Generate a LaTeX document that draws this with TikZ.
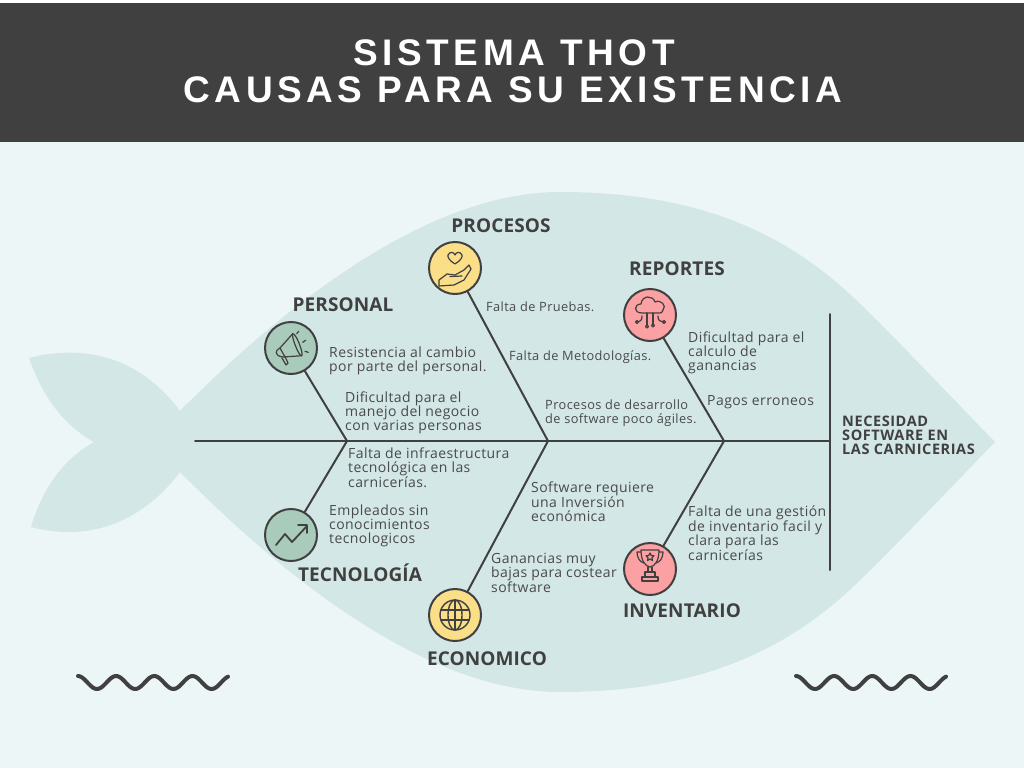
\documentclass[tikz,border=0pt]{standalone}
\usepackage{fontspec}
\setmainfont{Open Sans}
\definecolor{fondo}{HTML}{ECF6F6}
\definecolor{pez}{HTML}{D2E7E6}
\definecolor{oscuro}{HTML}{404040}
\definecolor{texto}{HTML}{4A4A4A}
\definecolor{verde}{HTML}{A8CBBB}
\definecolor{amarillo}{HTML}{FADF88}
\definecolor{rosa}{HTML}{FBA0A3}
\newcommand{\titlefont}{\fontspec{Liberation Sans}[LetterSpace=12.4]\bfseries\fontsize{37}{37}\selectfont}
\newcommand{\causafont}{\addfontfeature{LetterSpace=3}\fontsize{14}{14}\selectfont}
\newcommand{\causachicafont}{\addfontfeature{LetterSpace=3}\fontsize{12.8}{14}\selectfont}
\newcommand{\ramafont}{\addfontfeature{LetterSpace=0.5}\bfseries\fontsize{19}{19}\selectfont}
\newcommand{\efectofont}{\bfseries\addfontfeature{LetterSpace=4}\fontsize{14.5}{14}\selectfont}
\begin{document}
\begin{tikzpicture}[x=1pt, y=-1pt, line join=round, line cap=round]

\tikzset{
    icono/.style={circle, draw=oscuro, line width=2pt, minimum size=52pt, inner sep=0pt},
    trazo/.style={draw=oscuro, line width=1.2pt},
    hueso/.style={draw=oscuro, line width=2pt},
    causa/.style={anchor=west, align=left, inner sep=0pt, text=texto, font=\causafont},
    causachica/.style={causa, font=\causachicafont},
    rama/.style={inner sep=0pt, text=oscuro, font=\ramafont}
}

\useasboundingbox (0,0) rectangle (1024,768);
\fill[fondo] (0,0) rectangle (1024,768);
\fill[white] (0,0) rectangle (1024,3);
\fill[oscuro] (0,3) rectangle (1024,142);

% titulo
\node[inner sep=0pt, text=white, font=\titlefont] (titulo1) at (514,53) {SISTEMA THOT};
\node[inner sep=0pt, text=white, font=\titlefont] (titulo2) at (513,90) {CAUSAS PARA SU EXISTENCIA};

% cuerpo y cola
\fill[pez] (180,411) .. controls (290,300) and (430,192) .. (560,192)
    .. controls (690,192) and (775,228) .. (843,288)
    .. controls (875,316) and (950,396) .. (995,442)
    .. controls (950,488) and (875,568) .. (843,596)
    .. controls (775,656) and (690,692) .. (560,692)
    .. controls (430,692) and (290,583) .. (180,472)
    .. controls (150,512) and (100,545) .. (31,527)
    .. controls (42,490) and (62,460) .. (94,442)
    .. controls (62,424) and (42,395) .. (29,358)
    .. controls (100,340) and (150,370) .. (180,411) -- cycle;

% espina
\coordinate (cola) at (195,441);
\coordinate (cabeza) at (830,441);
\coordinate (cabezaA) at (830,314);
\coordinate (cabezaB) at (830,570);
\coordinate (j1) at (347,441);
\coordinate (j2) at (548,441);
\coordinate (j3) at (724,441);
\draw[hueso] (cola) -- (cabeza);
\draw[hueso] (cabezaA) -- (cabezaB);

\node[icono, fill=verde] (personal) at (291,348) {};
\node[icono, fill=amarillo] (procesos) at (455,268) {};
\node[icono, fill=rosa] (reportes) at (650,315) {};
\node[icono, fill=verde] (tecnologia) at (291,535) {};
\node[icono, fill=amarillo] (economico) at (455,615) {};
\node[icono, fill=rosa] (inventario) at (650,569) {};

\draw[hueso] (j1) -- (personal);
\draw[hueso] (j2) -- (procesos);
\draw[hueso] (j3) -- (reportes);
\draw[hueso] (j1) -- (tecnologia);
\draw[hueso] (j2) -- (economico);
\draw[hueso] (j3) -- (inventario);

% iconos
\begin{scope}[shift={(personal.center)}, trazo]
    \draw (1.7,-14.3) -- (-11,0) .. controls (-16,2) and (-17,8) .. (-8,9) -- (10.7,7.7);
    \draw (1.7,-14.3) .. controls (5,-15) and (13,6) .. (10.7,7.7)
        .. controls (8,9) and (0,-12) .. (1.7,-14.3) -- cycle;
    \draw (-11,0) -- (-6,9);
    \draw (-9,10) -- (-5,17) -- (-3,15) -- (-6,8.5);
    \draw (5.7,-14.3) -- (7.7,-16.7);
    \draw (11.7,-5.7) -- (14.7,-7.7);
    \draw (14,3.3) -- (17.3,4.3);
\end{scope}

\begin{scope}[shift={(procesos.center)}, trazo]
    \draw (0,-4) .. controls (-5,-7) and (-8,-11) .. (-7,-13)
        .. controls (-5,-17) and (-1,-16) .. (0,-13)
        .. controls (1,-16) and (5,-17) .. (7,-13)
        .. controls (8,-11) and (5,-7) .. (0,-4) -- cycle;
    \draw (-16,18) -- (-16,12) -- (-8,6) -- (0,7) -- (9,2) -- (14,-3) -- (16,1) -- (9,12) -- (-1,17) -- cycle;
    \draw (-5,8.5) -- (7,8);
\end{scope}

\begin{scope}[shift={(reportes.center)}, trazo]
    \draw (-8,-2) .. controls (-17,-2) and (-16,-11) .. (-9,-11)
        .. controls (-8,-20) and (3,-20) .. (5,-13)
        .. controls (11,-16) and (17,-9) .. (13,-5)
        .. controls (13,-3) and (11,-2) .. (10,-2) -- cycle;
    \draw (-3,-2) -- (-3,10);
    \draw (3,-2) -- (3,9);
    \draw (-8,1) .. controls (-8,6) and (-10,6) .. (-12,7);
    \draw (8,1) .. controls (8,6) and (10,6) .. (13,7);
    \foreach \p in {(-3,11.5), (3,10.5), (-13,7), (14,7)} {
        \draw \p circle [radius=1.5pt];
    }
\end{scope}

\begin{scope}[shift={(tecnologia.center)}, draw=oscuro, line width=1.8pt]
    \draw (-15,10) -- (-6,-1) -- (1,7) -- (16,-9);
    \draw (7,-10) -- (16,-10) -- (16,-2);
\end{scope}

\begin{scope}[shift={(economico.center)}, trazo, line width=1.4pt]
    \draw (0,0) circle [radius=15pt];
    \draw (0,0) ellipse [x radius=7pt, y radius=15pt];
    \draw (0,-15) -- (0,15);
    \draw (-14,-5) -- (14,-5);
    \draw (-14,5) -- (14,5);
\end{scope}

\begin{scope}[shift={(inventario.center)}, trazo]
    \draw (-9,-19) -- (9,-19) .. controls (9,-8) and (5,-3) .. (0,-2) .. controls (-5,-3) and (-9,-8) .. (-9,-19) -- cycle;
    \draw (-9,-17) -- (-13,-17) .. controls (-13,-11) and (-10,-7) .. (-6,-6);
    \draw (9,-17) -- (13,-17) .. controls (13,-11) and (10,-7) .. (6,-6);
    \draw (0,-16) -- (1.2,-13.5) -- (4,-13.2) -- (2,-11.3) -- (2.5,-8.5) -- (0,-10) -- (-2.5,-8.5) -- (-2,-11.3) -- (-4,-13.2) -- (-1.2,-13.5) -- cycle;
    \draw (-2,-2) -- (-2,3);
    \draw (2,-2) -- (2,3);
    \draw (-5,3) rectangle (5,8);
    \draw (-8,8) rectangle (8,12);
\end{scope}

% ramas
\node[rama] (lblPersonal) at (343,305) {PERSONAL};
\node[rama] (lblProcesos) at (501,226) {PROCESOS};
\node[rama] (lblReportes) at (677,269) {REPORTES};
\node[rama] (lblTecnologia) at (360,573) {TECNOLOGÍA};
\node[rama] (lblEconomico) at (487,659) {ECONOMICO};
\node[rama] (lblInventario) at (682,611) {INVENTARIO};

% causas
\node[causa] (c1) at (329,360.5) {Resistencia al cambio\\por parte del personal.};
\node[causa] (c2) at (345,412.5) {Dificultad para el\\manejo del negocio\\con varias personas};
\node[causa] (c3) at (348,467.5) {Falta de infraestructura\\tecnológica en las\\carnicerías.};
\node[causa] (c4) at (329,525.5) {Empleados sin\\conocimientos\\tecnologicos};
\node[causachica] (c5) at (486,307) {Falta de Pruebas.};
\node[causachica] (c6) at (509,357) {Falta de Metodologías.};
\node[causachica] (c7) at (545,413) {Procesos de desarrollo\\de software poco ágiles.};
\node[causa] (c8) at (531,501.5) {Software requiere\\una Inversión\\económica};
\node[causa] (c9) at (491,572.5) {Ganancias muy\\bajas para costear\\software};
\node[causa] (c10) at (688,352.5) {Dificultad para el\\calculo de\\ganancias};
\node[causa] (c11) at (707,402.5) {Pagos erroneos};
\node[causa] (c12) at (688,533.5) {Falta de una gestión\\de inventario facil y\\clara para las\\carnicerías};
\node[causa, text=oscuro, font=\efectofont] (efecto) at (842,435.5) {NECESIDAD\\SOFTWARE EN\\LAS CARNICERIAS};

% ondas
\foreach \ox in {78,796} {
    \draw[oscuro, line width=4pt] plot[domain=0:150, samples=90] ({\ox+\x},{682.5+6.5*cos(9.424*(\x-19))});
}

\end{tikzpicture}
\end{document}
